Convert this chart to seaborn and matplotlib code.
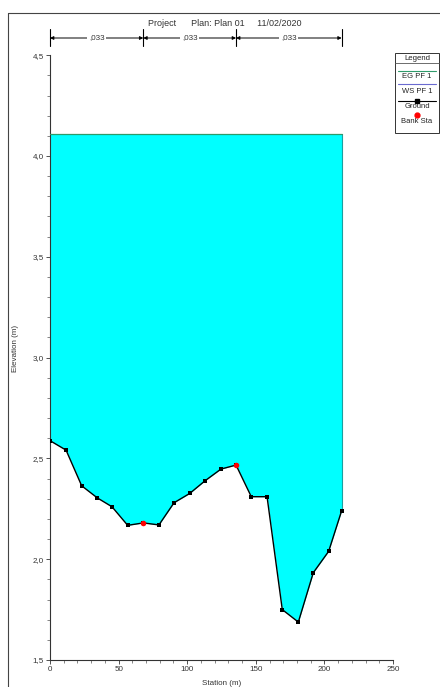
import numpy as np
import pandas as pd
import matplotlib
matplotlib.use("Agg")
import matplotlib.pyplot as plt
from matplotlib.lines import Line2D
from matplotlib.patches import Rectangle
import matplotlib.transforms as mtransforms
import seaborn as sns

# ---------------- data ----------------
station = [0.0, 11.7, 23.1, 34.5, 45.2, 56.6, 68.0, 79.4, 90.4, 101.8,
           113.0, 124.6, 135.6, 146.7, 158.2, 169.3, 181.0, 191.9, 203.1, 212.6]
ground = [2.588, 2.541, 2.364, 2.304, 2.260, 2.168, 2.180, 2.170, 2.280, 2.326,
          2.389, 2.447, 2.467, 2.310, 2.310, 1.750, 1.688, 1.933, 2.039, 2.241]
bank_station = [68.0, 135.6]
bank_elev = [2.180, 2.467]
ws_elev = 4.11
eg_elev = 4.11
manning_breaks = [0.0, 68.0, 135.6, 212.6]
manning_n = [",033", ",033", ",033"]
title = "Project      Plan: Plan 01     11/02/2020"
legend_labels = ["EG PF 1", "WS PF 1", "Ground", "Bank Sta"]

df = pd.DataFrame({"Station": station, "Elevation": ground})
banks = pd.DataFrame({"Station": bank_station, "Elevation": bank_elev})

# ---------------- style ----------------
sns.set_style("ticks")
plt.rcParams["font.family"] = ["Liberation Sans", "DejaVu Sans"]

W, H = 440, 687
fig = plt.figure(figsize=(W / 100, H / 100), dpi=100)
ax = fig.add_axes([50 / W, (H - 660) / H, 343 / W, (660 - 55.2) / H])

# water surface fill
ax.fill_between(station, ground, ws_elev, color="#00FFFF", linewidth=0, zorder=1)
ax.plot([station[-1], station[-1]], [ground[-1], ws_elev], color="#1aa0a0", lw=0.8, zorder=2)
ax.plot([station[0], station[-1]], [ws_elev, ws_elev], color="#6a6ad0", lw=0.6, zorder=2)
ax.plot([station[0], station[-1]], [eg_elev, eg_elev], color="#2e9a6a", lw=0.9, zorder=3)

# ground line
sns.lineplot(data=df, x="Station", y="Elevation", ax=ax, color="black", lw=1.0,
             marker="s", markersize=3.2, markeredgewidth=0, sort=False,
             estimator=None, zorder=4)
sns.scatterplot(data=banks, x="Station", y="Elevation", ax=ax, color="red", s=16,
                linewidth=0, zorder=5)

ax.set_xlim(0, 250)
ax.set_ylim(1.5, 4.5)
ax.set_xticks([0, 50, 100, 150, 200, 250])
ax.set_xticks(np.arange(0, 251, 10), minor=True)
ax.set_yticks([1.5, 2.0, 2.5, 3.0, 3.5, 4.0, 4.5])
ax.set_yticks(np.arange(1.5, 4.51, 0.1), minor=True)
ax.set_xticklabels(["0", "50", "100", "150", "200", "250"])
ax.set_yticklabels(["1,5", "2,0", "2,5", "3,0", "3,5", "4,0", "4,5"])
ax.tick_params(axis="both", which="major", labelsize=5.8, length=3, width=0.6,
               pad=1.5, colors="#333333")
ax.tick_params(axis="both", which="minor", length=2, width=0.5, colors="#555555")
sns.despine(ax=ax, top=True, right=True)
for s in ("left", "bottom"):
    ax.spines[s].set_linewidth(0.8)
    ax.spines[s].set_color("#333333")
ax.set_xlabel("Station (m)", fontsize=5.8, color="#333333")
ax.set_ylabel("Elevation (m)", fontsize=5.8, color="#333333")
ax.xaxis.set_label_coords((222 - 50) / 343, -(680 - 660) / 604.8)
ax.yaxis.set_label_coords((19 - 50) / 343, (660 - 348) / 604.8)

# Manning's n bars above the plot
trans = mtransforms.blended_transform_factory(ax.transData, fig.transFigure)
y_arrow = 1 - 38 / H
for i, n in enumerate(manning_n):
    x0, x1 = manning_breaks[i], manning_breaks[i + 1]
    ax.annotate("", xy=(x1, y_arrow), xytext=(x0, y_arrow), xycoords=trans,
                textcoords=trans,
                arrowprops=dict(arrowstyle="<|-|>", color="black", lw=0.7,
                                mutation_scale=5, shrinkA=0, shrinkB=0),
                annotation_clip=False)
    ax.text((x0 + x1) / 2, y_arrow, n, transform=trans, ha="center", va="center",
            fontsize=5.8, color="#333333",
            bbox=dict(facecolor="white", edgecolor="none", pad=1.2))
for xb in manning_breaks:
    ax.add_line(Line2D([xb, xb], [1 - 29 / H, 1 - 46 / H], transform=trans,
                       color="black", lw=0.8, clip_on=False))

# title
fig.text(225 / W, 1 - 23 / H, title, ha="center", va="center", fontsize=6.5,
         color="#333333")

# outer frame
fig.add_artist(Line2D([8 / W, 8 / W], [0, 1 - 13 / H], transform=fig.transFigure,
                      color="#444444", lw=0.8))
fig.add_artist(Line2D([8 / W, 1], [1 - 13 / H, 1 - 13 / H], transform=fig.transFigure,
                      color="#444444", lw=0.8))

# legend box (HEC-RAS style)
def fx(px):
    return px / W
def fy(py):
    return 1 - py / H

lx0, lx1, ly0, ly1 = 395, 439, 53, 133
fig.add_artist(Rectangle((fx(lx0), fy(ly1)), fx(lx1) - fx(lx0), fy(ly0) - fy(ly1),
                         transform=fig.transFigure, facecolor="white",
                         edgecolor="#333333", lw=0.7))
cx = fx((lx0 + lx1) / 2)
fig.text(cx, fy(58.5), "Legend", ha="center", va="center", fontsize=5.6,
         color="#222222")
fig.add_artist(Line2D([fx(lx0), fx(lx1)], [fy(62.5), fy(62.5)], transform=fig.transFigure,
                      color="#555555", lw=0.6))
seg = [fx(lx0 + 3), fx(lx1 - 3)]
fig.add_artist(Line2D(seg, [fy(71), fy(71)], transform=fig.transFigure,
                      color="#2e9a6a", lw=0.8))
fig.text(cx, fy(76.5), legend_labels[0], ha="center", va="center", fontsize=5.5,
         color="#222222")
fig.add_artist(Line2D(seg, [fy(83.5), fy(83.5)], transform=fig.transFigure,
                      color="#6a6ad0", lw=0.8))
fig.text(cx, fy(91.5), legend_labels[1], ha="center", va="center", fontsize=5.5,
         color="#222222")
fig.add_artist(Line2D(seg, [fy(100.5), fy(100.5)], transform=fig.transFigure,
                      color="black", lw=0.8))
fig.add_artist(Line2D([cx], [fy(100.5)], transform=fig.transFigure, marker="s",
                      markersize=2.5, color="black", lw=0))
fig.text(cx, fy(107), legend_labels[2], ha="center", va="center", fontsize=5.5,
         color="#222222")
fig.add_artist(Line2D([cx], [fy(115)], transform=fig.transFigure, marker="o",
                      markersize=3.5, color="red", lw=0))
fig.text(cx, fy(121.5), legend_labels[3], ha="center", va="center", fontsize=5.5,
         color="#222222")

fig.savefig("out.png", dpi=100, facecolor="white")
